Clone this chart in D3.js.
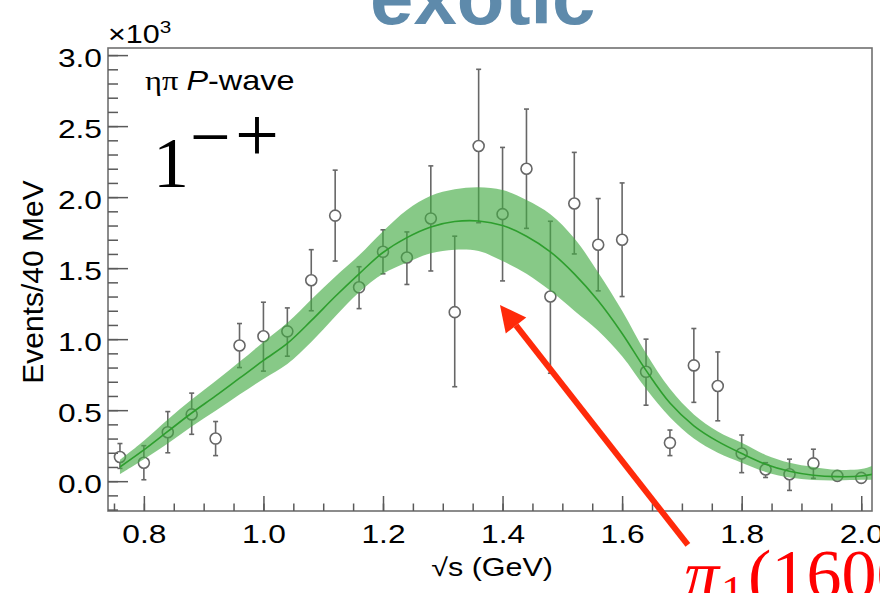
<!DOCTYPE html>
<html>
<head>
<meta charset="utf-8">
<script src="https://cdn.jsdelivr.net/npm/d3@7"></script>
<style>
  html, body { margin: 0; padding: 0; background: #fff; }
  svg { display: block; }
</style>
</head>
<body>
<svg id="chart" width="880" height="593"></svg>
<script>
// ---------------- data (units of 10^3 events / 40 MeV) ----------------
const binCenters = [0.76, 0.80, 0.84, 0.88, 0.92, 0.96, 1.00, 1.04, 1.08, 1.12, 1.16, 1.20, 1.24, 1.28, 1.32, 1.36,
                    1.40, 1.44, 1.48, 1.52, 1.56, 1.60, 1.64, 1.68, 1.72, 1.76, 1.80, 1.84, 1.88, 1.92, 1.96, 2.00];
const counts     = [0.17, 0.13, 0.345, 0.47, 0.30, 0.955, 1.02, 1.055, 1.415, 1.87, 1.365, 1.615, 1.575, 1.85, 1.19, 2.36,
                    1.88, 2.20, 1.30, 1.955, 1.665, 1.70, 0.77, 0.27, 0.815, 0.67, 0.195, 0.082, 0.049, 0.125, 0.037, 0.023];
const errLow     = [0.09, 0.01, 0.20, 0.33, 0.18, 0.80, 0.775, 0.88, 1.20, 1.55, 1.215, 1.46, 1.385, 1.48, 0.665, 1.82,
                    1.41, 1.78, 0.76, 1.60, 1.34, 1.30, 0.535, 0.18, 0.555, 0.425, 0.06, 0.026, -0.065, 0.02, 0.037, 0.023];
const errHigh    = [0.265, 0.25, 0.49, 0.62, 0.42, 1.11, 1.26, 1.22, 1.63, 2.19, 1.51, 1.77, 1.755, 2.22, 1.725, 2.90,
                    2.35, 2.62, 1.83, 2.315, 1.99, 2.10, 1.00, 0.36, 1.075, 0.91, 0.325, 0.13, 0.155, 0.225, 0.037, 0.023];

// fit curve and its uncertainty band
const fitX       = [0.76, 0.80, 0.84, 0.88, 0.92, 0.96, 1.00, 1.04, 1.08, 1.12, 1.16, 1.20, 1.24, 1.28, 1.32, 1.36,
                    1.40, 1.44, 1.48, 1.52, 1.56, 1.60, 1.64, 1.68, 1.72, 1.76, 1.80, 1.84, 1.88, 1.92, 1.96, 2.00, 2.02];
const fitCentral = [0.10, 0.22, 0.35, 0.48, 0.60, 0.725, 0.85, 0.97, 1.13, 1.30, 1.46, 1.61, 1.715, 1.79, 1.828, 1.832,
                    1.80, 1.725, 1.615, 1.46, 1.27, 1.04, 0.78, 0.55, 0.39, 0.28, 0.195, 0.12, 0.07, 0.042, 0.032, 0.036, 0.05];
const fitUpper   = [0.15, 0.285, 0.435, 0.575, 0.705, 0.84, 0.98, 1.115, 1.28, 1.44, 1.59, 1.76, 1.91, 2.01, 2.055, 2.07,
                    2.05, 1.98, 1.88, 1.71, 1.47, 1.20, 0.90, 0.65, 0.47, 0.35, 0.27, 0.185, 0.13, 0.10, 0.08, 0.085, 0.11];
const fitLower   = [0.05, 0.155, 0.265, 0.385, 0.495, 0.61, 0.72, 0.825, 0.98, 1.16, 1.33, 1.46, 1.54, 1.605, 1.63, 1.62,
                    1.55, 1.46, 1.34, 1.20, 1.06, 0.88, 0.65, 0.45, 0.30, 0.20, 0.13, 0.065, 0.025, 0.008, 0.005, 0.01, 0.01];

// axes
const xTickValues = [0.8, 1.0, 1.2, 1.4, 1.6, 1.8, 2.0];
const xTickLabels = ["0.8", "1.0", "1.2", "1.4", "1.6", "1.8", "2.0"];
const yTickValues = [0.0, 0.5, 1.0, 1.5, 2.0, 2.5, 3.0];
const yTickLabels = ["0.0", "0.5", "1.0", "1.5", "2.0", "2.5", "3.0"];

// annotation arrow (data coordinates)
const arrowTail = [1.710, -0.449];
const arrowTip  = [1.3957, 1.241];

// ---------------- drawing ----------------
const svg = d3.select("#chart");
const L = 108, R = 872, T = 48, B = 511;
const x = d3.scaleLinear().domain([0.74, 2.018]).range([L, R]);
const y = d3.scaleLinear().domain([-0.21, 3.05]).range([B, T]);
const axisColor = "#5a5a5a";
const stretch = 1.22;

svg.append("defs").append("clipPath").attr("id", "plotClip")
  .append("rect").attr("x", L).attr("y", T).attr("width", R - L).attr("height", B - T);

// title "exotic"
svg.append("text")
  .attr("x", 370).attr("y", 24)
  .attr("font-family", "Liberation Sans, Arial, sans-serif")
  .attr("font-weight", "bold").attr("font-size", 78)
  .attr("fill", "#5e8aab")
  .text("exotic");

// frame
svg.append("rect").attr("x", L).attr("y", T).attr("width", R - L).attr("height", B - T)
  .attr("fill", "none").attr("stroke", "#707070").attr("stroke-width", 1.6);

// minor ticks
const xMinor = d3.range(0.75, 2.0001, 0.05);
const yMinor = d3.range(-0.2, 3.0001, 0.1);
svg.append("g").attr("transform", `translate(0,${B})`)
  .call(d3.axisBottom(x).tickValues(xMinor).tickSize(-7.5).tickFormat(""))
  .call(g => g.select(".domain").remove())
  .call(g => g.selectAll("line").attr("stroke", axisColor).attr("stroke-width", 1.5));
svg.append("g").attr("transform", `translate(${L},0)`)
  .call(d3.axisLeft(y).tickValues(yMinor).tickSize(-10).tickFormat(""))
  .call(g => g.select(".domain").remove())
  .call(g => g.selectAll("line").attr("stroke", axisColor).attr("stroke-width", 1.5));

// major x axis
svg.append("g").attr("transform", `translate(0,${B})`)
  .call(d3.axisBottom(x).tickValues(xTickValues).tickSize(-15).tickPadding(13.5)
        .tickFormat((d, i) => xTickLabels[i]))
  .call(g => g.select(".domain").remove())
  .call(g => g.selectAll("line").attr("stroke", axisColor).attr("stroke-width", 1.5))
  .call(g => g.selectAll("text")
        .attr("font-family", "Liberation Sans, Arial, sans-serif")
        .attr("font-size", 26).attr("fill", "#000")
        .attr("transform", `scale(${stretch},1)`));

// major y axis
svg.append("g").attr("transform", `translate(${L},0)`)
  .call(d3.axisLeft(y).tickValues(yTickValues).tickSize(-20).tickPadding(6)
        .tickFormat((d, i) => yTickLabels[i]))
  .call(g => g.select(".domain").remove())
  .call(g => g.selectAll("line").attr("stroke", axisColor).attr("stroke-width", 1.5))
  .call(g => g.selectAll("text")
        .attr("font-family", "Liberation Sans, Arial, sans-serif")
        .attr("font-size", 26).attr("fill", "#000")
        .attr("x", -6 / stretch).attr("dy", "0.45em")
        .attr("transform", `scale(${stretch},1)`));

// x10^3
const exp = svg.append("text")
  .attr("transform", `translate(108,43) scale(${stretch},1)`)
  .attr("font-family", "Liberation Sans, Arial, sans-serif")
  .attr("font-size", 25).attr("fill", "#000");
exp.append("tspan").text("×10");
exp.append("tspan").attr("font-size", 17).attr("dy", -10).text("3");

// axis titles
svg.append("text")
  .attr("transform", `translate(553,576) scale(${stretch},1)`)
  .attr("text-anchor", "end")
  .attr("font-family", "Liberation Sans, Arial, sans-serif")
  .attr("font-size", 25).attr("fill", "#000")
  .text("√s (GeV)");
svg.append("text")
  .attr("transform", "translate(43,282) rotate(-90)")
  .attr("text-anchor", "middle")
  .attr("font-family", "Liberation Sans, Arial, sans-serif")
  .attr("font-size", 30).attr("fill", "#000")
  .text("Events/40 MeV");

// labels in plot
const lab = svg.append("text")
  .attr("transform", `translate(145,90) scale(1.2,1)`)
  .attr("font-family", "Liberation Sans, Arial, sans-serif")
  .attr("font-size", 27).attr("fill", "#000");
lab.append("tspan").attr("font-family", "Liberation Serif, Times New Roman, serif").text("ηπ ");
lab.append("tspan").attr("font-style", "italic").text("P");
lab.append("tspan").text("-wave");

const jpc = svg.append("g").attr("font-family", "Liberation Serif, Times New Roman, serif").attr("fill", "#000");
jpc.append("text").attr("x", 153).attr("y", 187).attr("font-size", 72).text("1");
jpc.append("text").attr("x", 190).attr("y", 161).attr("font-size", 72).text("−");
jpc.append("text").attr("x", 235).attr("y", 161).attr("font-size", 78).text("+");

// data points
const pts = binCenters.map((c, i) => ({ x: c, y: counts[i], lo: errLow[i], hi: errHigh[i] }));
const r = 5.5;
const gp = svg.append("g").attr("clip-path", "url(#plotClip)");
const barColor = "#676767";
pts.forEach(p => {
  const px = x(p.x), py = y(p.y), ph = y(p.hi), pl = y(p.lo);
  if (py - ph > r) {
    gp.append("line").attr("x1", px).attr("x2", px).attr("y1", py - r).attr("y2", ph)
      .attr("stroke", barColor).attr("stroke-width", 1.6);
    gp.append("line").attr("x1", px - 2.5).attr("x2", px + 2.5).attr("y1", ph).attr("y2", ph)
      .attr("stroke", barColor).attr("stroke-width", 1.6);
  }
  if (pl - py > r) {
    gp.append("line").attr("x1", px).attr("x2", px).attr("y1", py + r).attr("y2", pl)
      .attr("stroke", barColor).attr("stroke-width", 1.6);
    gp.append("line").attr("x1", px - 2.5).attr("x2", px + 2.5).attr("y1", pl).attr("y2", pl)
      .attr("stroke", barColor).attr("stroke-width", 1.6);
  }
  gp.append("circle").attr("cx", px).attr("cy", py).attr("r", r)
    .attr("fill", "none").attr("stroke", barColor).attr("stroke-width", 1.6);
});

// fit band + central curve
const fit = fitX.map((v, i) => ({ x: v, c: fitCentral[i], u: fitUpper[i], l: fitLower[i] }));
const gf = svg.append("g").attr("clip-path", "url(#plotClip)");
const smooth = d3.curveCatmullRom.alpha(0.5);
gf.append("path").datum(fit)
  .attr("d", d3.area().x(d => x(d.x)).y0(d => y(d.l)).y1(d => y(d.u)).curve(smooth))
  .attr("fill", "rgb(67,170,67)").attr("fill-opacity", 0.64);
gf.append("path").datum(fit)
  .attr("d", d3.line().x(d => x(d.x)).y(d => y(d.c)).curve(smooth))
  .attr("fill", "none").attr("stroke", "#2e9e2e").attr("stroke-width", 1.6);

// red arrow annotation
const tx = x(arrowTail[0]), ty = y(arrowTail[1]);
const hx = x(arrowTip[0]), hy = y(arrowTip[1]);
const ang = Math.atan2(hy - ty, hx - tx);
const headLen = 26, headHalf = 13;
const bx = hx - headLen * Math.cos(ang), by = hy - headLen * Math.sin(ang);
svg.append("line").attr("x1", tx).attr("y1", ty).attr("x2", bx).attr("y2", by)
  .attr("stroke", "#ff2a0a").attr("stroke-width", 6);
svg.append("path")
  .attr("d", `M${hx},${hy} L${bx + headHalf * Math.sin(ang)},${by - headHalf * Math.cos(ang)} L${bx - headHalf * Math.sin(ang)},${by + headHalf * Math.cos(ang)} Z`)
  .attr("fill", "#ff2a0a");

// red label
const red = svg.append("text").attr("x", 684).attr("y", 598)
  .attr("font-family", "Liberation Serif, Times New Roman, serif")
  .attr("font-size", 70).attr("fill", "#ff0000");
red.append("tspan").attr("font-style", "italic").text("π");
red.append("tspan").attr("font-size", 46).attr("dy", 10).attr("dx", 2).text("1");
red.append("tspan").attr("dy", -10).attr("dx", 4).text("(1600)");
</script>
</body>
</html>
